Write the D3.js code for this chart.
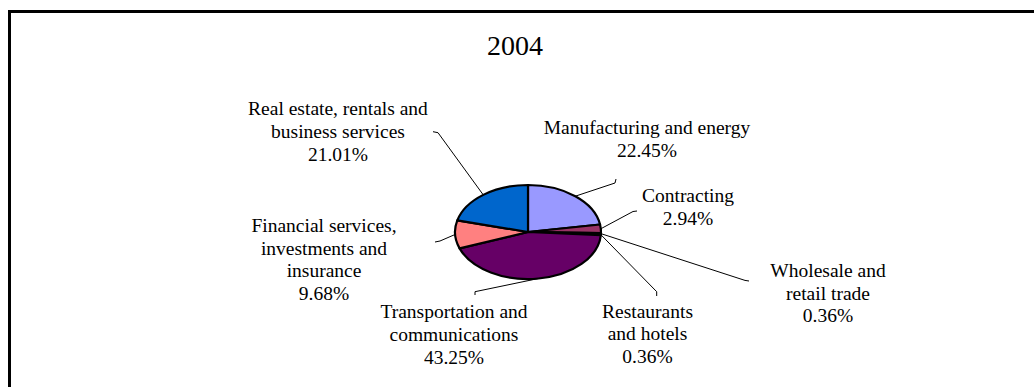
<!DOCTYPE html>
<html>
<head>
<meta charset="utf-8">
<script src="https://cdn.jsdelivr.net/npm/d3@7/dist/d3.min.js"></script>
<style>
  html, body { margin: 0; padding: 0; background: #fff; }
  svg { display: block; }
  text { font-family: "Liberation Serif", "Times New Roman", serif; fill: #000; }
</style>
</head>
<body>
<svg id="chart" width="1034" height="387"></svg>
<script>
// GDP share by economic sector, 2004 (percent)
const title = "2004";
const sectors = [
  "Manufacturing and energy",
  "Contracting",
  "Wholesale and\nretail trade",
  "Restaurants\nand hotels",
  "Transportation and\ncommunications",
  "Financial services,\ninvestments and\ninsurance",
  "Real estate, rentals and\nbusiness services"
];
const shares = [22.45, 2.94, 0.36, 0.36, 43.25, 9.68, 21.01];
const colors = ["#9999FF", "#993366", "#FFFFCC", "#CCFFFF", "#660066", "#FF8080", "#0066CC"];

// Label placement: centre x, first baseline, and leader points from the label toward the slice
const labelLayout = [
  { x: 647, y: 133.7, leader: [[616, 179], [615, 183]] },
  { x: 688, y: 201.7, leader: [[637, 211], [633, 211.5]] },
  { x: 828, y: 276.7, leader: [[749, 281], [745, 280.4]] },
  { x: 647.5, y: 317.5, leader: [[656.7, 296], [656.7, 291.7]] },
  { x: 454, y: 318.3, leader: [[475, 295], [475, 291.7]] },
  { x: 324, y: 231.7, leader: [[435, 242], [440, 241]] },
  { x: 338, y: 115, leader: [[433, 131.7], [438, 132.7]] }
];

const svg = d3.select("#chart");
const lineStep = 22.8;

// Chart frame
svg.append("rect")
  .attr("x", 9.5).attr("y", 11.5)
  .attr("width", 1040).attr("height", 400)
  .attr("fill", "#fff")
  .attr("stroke", "#000")
  .attr("stroke-width", 3);

// Title
svg.append("text")
  .attr("x", 515).attr("y", 55)
  .attr("text-anchor", "middle")
  .style("font-size", "28px")
  .text(title);

// Pie drawn as an ellipse: circular arcs scaled vertically
const cx = 528, cy = 232, rx = 73, ry = 47;
const pie = d3.pie().sort(null).value(d => d);
const arcs = pie(shares);
const arc = d3.arc().innerRadius(0).outerRadius(rx);

const pieG = svg.append("g")
  .attr("transform", `translate(${cx},${cy}) scale(1,${ry / rx})`);

pieG.selectAll("path.slice")
  .data(arcs)
  .join("path")
  .attr("class", "slice")
  .attr("d", arc)
  .attr("fill", (d, i) => colors[i])
  .attr("stroke", "#000")
  .attr("stroke-width", 2.2)
  .attr("stroke-linejoin", "round")
  .attr("vector-effect", "non-scaling-stroke");

// Point on the ellipse rim at the middle of each slice
function rimPoint(d) {
  const a = (d.startAngle + d.endAngle) / 2;
  return [cx + rx * Math.sin(a), cy - ry * Math.cos(a)];
}

// Leader lines
const line = d3.line();
svg.selectAll("path.leader")
  .data(arcs)
  .join("path")
  .attr("class", "leader")
  .attr("d", (d, i) => line([...labelLayout[i].leader, rimPoint(d)]))
  .attr("fill", "none")
  .attr("stroke", "#000")
  .attr("stroke-width", 1);

// Labels: category name lines followed by the percentage
const fmt = d3.format(".2f");
const labels = svg.selectAll("text.label")
  .data(arcs)
  .join("text")
  .attr("class", "label")
  .attr("text-anchor", "middle")
  .style("font-size", "19.5px");

labels.each(function (d, i) {
  const lines = sectors[i].split("\n").concat([fmt(d.data) + "%"]);
  const L = labelLayout[i];
  d3.select(this).selectAll("tspan")
    .data(lines)
    .join("tspan")
    .attr("x", L.x)
    .attr("y", (t, k) => L.y + k * lineStep)
    .text(t => t);
});
</script>
</body>
</html>
